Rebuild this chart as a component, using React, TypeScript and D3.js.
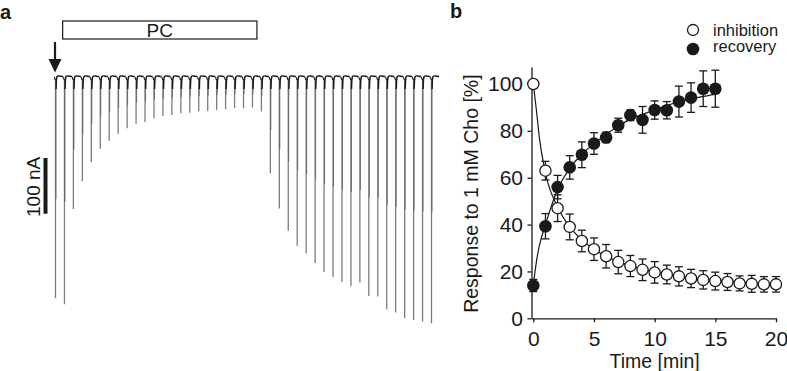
import * as d3 from "d3";
import { useEffect, useRef } from "react";

// panel a: peak inward current of each sweep (nA)
const sweepPeaks = [
  397, 408, 237, 187, 153, 129, 115, 102, 92, 84, 81, 74, 70, 68, 65, 64, 62, 61, 59, 58, 56,
  56, 55, 62, 173, 236, 276, 303, 317, 334, 350, 359, 368, 375, 369, 393, 394, 417, 423, 433,
  436, 439, 442
];
const pcWindow = [1.8, 23.5]; // in sweep units
const scaleBarNA = 100;

// panel b
const timeMin = d3.range(0, 21);
const inhibition = [
  100, 63, 47, 39, 33, 29.5, 26.5, 24, 22.3, 20.7, 19.6, 18.7, 17.9, 17, 16.4, 15.9, 15.5, 14.9,
  14.7, 14.5, 14.5
];
const inhibitionErr = [
  0, 4, 5.7, 5.5, 4.6, 4.8, 5, 5, 4.5, 4.6, 4.6, 4, 4.1, 3.9, 3.9, 3.8, 3.6, 3.2, 3.6, 3.3, 3.3
];
const recovery = [14, 39.3, 56, 64.4, 69.8, 74.6, 77.2, 82.4, 86.7, 84.7, 88.9, 88.8, 92.5, 94.2, 98, 98];
const recoveryErr = [2.6, 5.4, 5, 5, 5.5, 4.6, 2.2, 3, 2.3, 5.7, 3.9, 3.7, 6.6, 6.3, 7.6, 7.9];

const inhibitionFitT = [0, 0.25, 0.5, 1, 2, 3, 4, 5, 6, 7, 8, 9, 10, 11, 12, 13, 14, 15, 16, 17, 18, 19, 20];
const inhibitionFitV = [
  100, 89, 77, 62, 47.5, 39, 33.5, 29.5, 26.5, 24.2, 22.4, 20.9, 19.7, 18.7, 17.9, 17.2, 16.6,
  16.1, 15.7, 15.3, 15, 14.8, 14.6
];
const recoveryFitT = [0, 0.25, 0.5, 1, 2, 3, 4, 5, 6, 7, 8, 9, 10, 11, 12, 13, 14, 15];
const recoveryFitV = [14, 24, 31, 40, 55, 64, 70, 74.5, 78.5, 82, 85, 87, 89, 90.8, 92.3, 93.6, 94.7, 95.6];

const yTicks = [0, 20, 40, 60, 80, 100];
const xTicks = [0, 5, 10, 15, 20];

const FONT = "'Liberation Sans', Arial, Helvetica, sans-serif";
const INK = "#1a1a1a";

export default function App() {
  const ref = useRef<SVGSVGElement | null>(null);

  useEffect(() => {
    if (!ref.current) return;
    const width = 787;
    const height = 371;
    const svg = d3.select(ref.current);
    svg.selectAll("*").remove();
    svg.attr("width", width).attr("height", height).attr("viewBox", `0 0 ${width} ${height}`);
    svg.style("font-family", FONT);

    // ---------- panel a ----------
    const a = svg.append("g");
    const xs = d3.scaleLinear().domain([1, sweepPeaks.length]).range([55.5, 431.5]);
    const ya = d3.scaleLinear().domain([0, 100]).range([77, 132.7]);
    const base = ya(0);

    a.append("text").attr("x", 0).attr("y", 18.5).attr("font-size", 20).attr("font-weight", "bold")
      .attr("fill", INK).text("a");

    // PC application bar
    a.append("rect")
      .attr("x", xs(pcWindow[0])).attr("y", 21)
      .attr("width", xs(pcWindow[1]) - xs(pcWindow[0])).attr("height", 18)
      .attr("fill", "white").attr("stroke", INK).attr("stroke-width", 1.2);
    a.append("text").attr("x", (xs(pcWindow[0]) + xs(pcWindow[1])) / 2).attr("y", 36.5)
      .attr("text-anchor", "middle").attr("font-size", 19).attr("fill", INK).text("PC");

    // arrow at first sweep
    const ax = xs(1) - 0.5;
    a.append("line").attr("x1", ax).attr("x2", ax).attr("y1", 42).attr("y2", 62)
      .attr("stroke", INK).attr("stroke-width", 2.2);
    a.append("path").attr("d", `M${ax - 6.5},59 L${ax + 6.5},59 L${ax},72.5 Z`).attr("fill", INK);

    // scale bar
    const barTop = 158;
    a.append("rect").attr("x", 43.5).attr("y", barTop).attr("width", 4)
      .attr("height", ya(scaleBarNA) - ya(0)).attr("fill", INK);
    a.append("text")
      .attr("transform", `translate(40, ${barTop + (ya(scaleBarNA) - ya(0)) / 2 + 1}) rotate(-90)`)
      .attr("text-anchor", "middle").attr("font-size", 19).attr("fill", INK)
      .text(`${scaleBarNA} nA`);

    // sweeps
    const hook = d3.line().curve(d3.curveBasis);
    sweepPeaks.forEach((peak, i) => {
      const x0 = xs(i + 1);
      const yb = ya(peak);
      a.append("line").attr("x1", x0).attr("x2", x0).attr("y1", base + 2).attr("y2", yb)
        .attr("stroke", "#7c7c7c").attr("stroke-width", 1.3);
      a.append("line").attr("x1", x0 + 0.5).attr("x2", x0 + 0.5).attr("y1", base + 2)
        .attr("y2", base + (yb - base) * 0.55)
        .attr("stroke", "#5a5a5a").attr("stroke-width", 0.8);
      a.append("path")
        .attr("d", hook([
          [x0 + 0.6, base + 12], [x0 + 0.8, base + 2], [x0 + 1.6, base - 1.2],
          [x0 + 3.5, base - 1.2], [x0 + 7.6, base - 0.4]
        ]))
        .attr("fill", "none").attr("stroke", INK).attr("stroke-width", 1.5);
      a.append("path")
        .attr("d", `M${x0 - 1.2},${base} L${x0 - 0.2},${base + 3}`)
        .attr("fill", "none").attr("stroke", INK).attr("stroke-width", 1.1);
    });

    // ---------- panel b ----------
    const b = svg.append("g");
    const x = d3.scaleLinear().domain([-0.15, 20]).range([531.5, 776]);
    const y = d3.scaleLinear().domain([0, 107.3]).range([318.3, 66.9]);

    b.append("text").attr("x", 450).attr("y", 18).attr("font-size", 20).attr("font-weight", "bold")
      .attr("fill", INK).text("b");

    const yAxis = b.append("g").attr("transform", `translate(${x(-0.15)},0)`)
      .call(d3.axisLeft(y).tickValues(yTicks).tickSize(4).tickSizeOuter(0).tickPadding(4.5));
    const xAxis = b.append("g").attr("transform", `translate(0,${y(0)})`)
      .call(d3.axisBottom(x).tickValues(xTicks).tickSize(4).tickSizeOuter(0).tickPadding(8.3));
    [yAxis, xAxis].forEach((g) => {
      g.attr("font-family", FONT).attr("font-size", 21);
      g.selectAll("path,line").attr("stroke", INK).attr("stroke-width", 1.3);
      g.selectAll("text").attr("fill", INK);
    });

    b.append("text")
      .attr("transform", `translate(478, ${(y(0) + y(107.3)) / 2 + 1}) rotate(-90)`)
      .attr("text-anchor", "middle").attr("font-size", 19.5).attr("fill", INK)
      .text("Response to 1 mM Cho [%]");
    b.append("text").attr("x", (x(0) + x(20)) / 2).attr("y", 368)
      .attr("text-anchor", "middle").attr("font-size", 19.5).attr("fill", INK).text("Time [min]");

    const fit = d3.line<number>().curve(d3.curveMonotoneX);
    b.append("path")
      .attr("d", fit.x((_, i) => x(inhibitionFitT[i])).y((v) => y(v))(inhibitionFitV))
      .attr("fill", "none").attr("stroke", INK).attr("stroke-width", 1.2);
    b.append("path")
      .attr("d", fit.x((_, i) => x(recoveryFitT[i])).y((v) => y(v))(recoveryFitV))
      .attr("fill", "none").attr("stroke", INK).attr("stroke-width", 1.2);

    const errBars = (vals: number[], errs: number[]) => {
      vals.forEach((v, i) => {
        const e = errs[i];
        if (!e) return;
        const cx = x(timeMin[i]);
        b.append("line").attr("x1", cx).attr("x2", cx).attr("y1", y(v - e)).attr("y2", y(v + e))
          .attr("stroke", INK).attr("stroke-width", 1.3);
        [v - e, v + e].forEach((end) => {
          b.append("line").attr("x1", cx - 4).attr("x2", cx + 4).attr("y1", y(end)).attr("y2", y(end))
            .attr("stroke", INK).attr("stroke-width", 1.3);
        });
      });
    };
    errBars(inhibition, inhibitionErr);
    errBars(recovery, recoveryErr);

    b.selectAll("circle.inh").data(inhibition).join("circle").attr("class", "inh")
      .attr("cx", (_, i) => x(timeMin[i])).attr("cy", (d) => y(d)).attr("r", 5.6)
      .attr("fill", "white").attr("stroke", INK).attr("stroke-width", 1.3);
    b.selectAll("circle.rec").data(recovery).join("circle").attr("class", "rec")
      .attr("cx", (_, i) => x(timeMin[i])).attr("cy", (d) => y(d)).attr("r", 6.3)
      .attr("fill", INK);

    // legend
    const legend = b.append("g").attr("transform", "translate(693, 30)");
    legend.append("circle").attr("r", 5.5).attr("fill", "white").attr("stroke", INK).attr("stroke-width", 1.3);
    legend.append("circle").attr("cy", 19).attr("r", 6.3).attr("fill", INK);
    legend.append("text").attr("x", 20).attr("y", 5.5).attr("font-size", 16.5).attr("fill", INK).text("inhibition");
    legend.append("text").attr("x", 20).attr("y", 22).attr("font-size", 16.5).attr("fill", INK).text("recovery");
  }, []);

  return (
    <div style={{ position: "absolute", left: 0, top: 0 }}>
      <svg ref={ref} style={{ display: "block", background: "white" }} aria-label="PC inhibition and recovery" />
    </div>
  );
}
